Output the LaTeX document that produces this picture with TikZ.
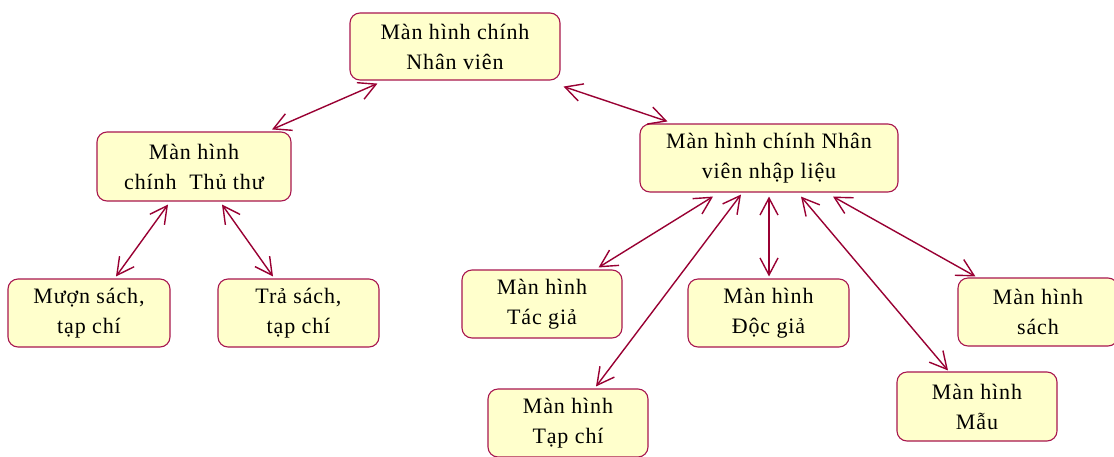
\documentclass[tikz,border=0pt]{standalone}
\usepackage{fontspec}
\setmainfont{Liberation Serif}[LetterSpace=4]
\usetikzlibrary{arrows.meta}
\definecolor{boxfill}{HTML}{FFFFCC}
\definecolor{boxline}{HTML}{A8174F}
\definecolor{linkcol}{HTML}{990033}
\begin{document}
\begin{tikzpicture}[x=1pt,y=-1pt,
  screen/.style={draw=boxline, fill=boxfill, line width=1.1pt, rounded corners=10pt,
    align=center, inner sep=0pt, font=\fontsize{22}{30}\selectfont},
  link/.style={draw=linkcol, line width=1.4pt,
    {Straight Barb[length=17pt,width=18pt]}-{Straight Barb[length=17pt,width=18pt]}}]
\useasboundingbox[fill=white] (0,0) rectangle (1114,456);

% screens
\node[screen, minimum width=210pt, minimum height=67pt] (top) at (455,46.5) {Màn hình chính\\Nhân viên};
\node[screen, minimum width=194pt, minimum height=69pt] (thu) at (194,166.5) {Màn hình\\chính\ \ Thủ thư};
\node[screen, minimum width=258pt, minimum height=68pt] (nv) at (769,158) {Màn hình chính Nhân\\viên nhập liệu};
\node[screen, minimum width=162pt, minimum height=68pt] (muon) at (89,313) {Mượn sách,\\tạp chí};
\node[screen, minimum width=161pt, minimum height=68pt] (tra) at (298.5,313) {Trả sách,\\tạp chí};
\node[screen, minimum width=160pt, minimum height=68pt] (tacgia) at (542,304) {Màn hình\\Tác giả};
\node[screen, minimum width=161pt, minimum height=68pt] (docgia) at (768.5,313) {Màn hình\\Độc giả};
\node[screen, minimum width=160pt, minimum height=68pt] (sach) at (1038,312) {Màn hình\\sách};
\node[screen, minimum width=160pt, minimum height=69pt] (mau) at (977,406.5) {Màn hình\\Mẫu};
\node[screen, minimum width=160pt, minimum height=68pt] (tapchi) at (568,423) {Màn hình\\Tạp chí};

% navigation links
\draw[link] ([shift={(28,3)}]top.south west) -- ([shift={(78,-2)}]thu.north);
\draw[link] ([shift={(3,6)}]top.south east) -- ([shift={(28,-2)}]nv.north west);
\draw[link] ([shift={(-26,3)}]thu.south) -- ([shift={(27,-2)}]muon.north);
\draw[link] ([shift={(28,3)}]thu.south) -- ([shift={(-25.5,-2)}]tra.north);
\draw[link] ([shift={(-56,4)}]nv.south) -- ([shift={(-24,-2)}]tacgia.north east);
\draw[link] ([shift={(-28,2)}]nv.south) -- ([shift={(28,-2)}]tapchi.north);
\draw[link] ([shift={(0,4)}]nv.south) -- ([shift={(0.5,-2)}]docgia.north);
\draw[link] ([shift={(32,4)}]nv.south) -- ([shift={(-29,-1)}]mau.north);
\draw[link] ([shift={(64,4)}]nv.south) -- ([shift={(18,-1)}]sach.north west);
\end{tikzpicture}
\end{document}
